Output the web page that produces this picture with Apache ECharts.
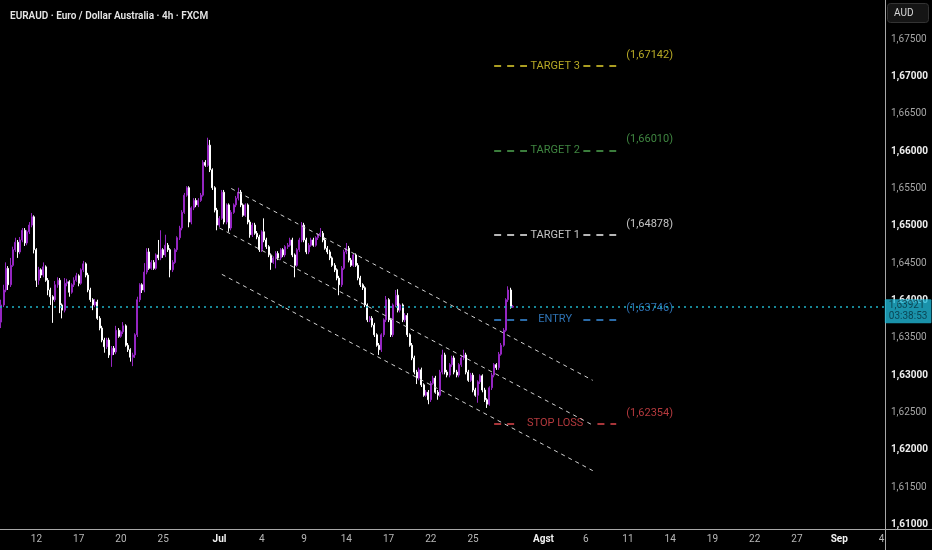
<!DOCTYPE html>
<html><head><meta charset="utf-8">
<script src="https://cdn.jsdelivr.net/npm/echarts@6/dist/echarts.min.js"></script>
<style>html,body{margin:0;padding:0;background:#000;}#c{width:932px;height:550px;}</style>
</head><body><div id="c"></div>
<script>
// ---- data ----
// [open, close, low, high]
const candles = [
[1.6371,1.6394,1.6363,1.6401],[1.6394,1.6414,1.6391,1.6421],[1.6414,1.6443,1.6411,1.6451],[1.6443,1.6421,1.6414,1.6446],
[1.6421,1.6447,1.6418,1.6457],[1.6447,1.6468,1.6445,1.6472],[1.6468,1.6478,1.6465,1.6484],[1.6478,1.6465,1.6457,1.6481],
[1.6465,1.6481,1.6462,1.6485],[1.6481,1.6494,1.6478,1.6497],[1.6494,1.6477,1.6473,1.6497],[1.6477,1.6492,1.6474,1.6494],
[1.6492,1.6501,1.6489,1.6505],[1.6501,1.6512,1.6498,1.6517],[1.6512,1.6468,1.6463,1.6514],[1.6468,1.6427,1.6418,1.6470],
[1.6427,1.6441,1.6421,1.6445],[1.6441,1.6434,1.6430,1.6443],[1.6434,1.6445,1.6431,1.6451],[1.6445,1.6427,1.6425,1.6447],
[1.6427,1.6414,1.6407,1.6430],[1.6414,1.6405,1.6394,1.6417],[1.6405,1.6401,1.6370,1.6407],[1.6401,1.6421,1.6398,1.6426],
[1.6421,1.6427,1.6417,1.6431],[1.6427,1.6394,1.6383,1.6430],[1.6394,1.6387,1.6376,1.6396],[1.6387,1.6423,1.6384,1.6430],
[1.6423,1.6425,1.6419,1.6429],[1.6425,1.6411,1.6405,1.6427],
[1.6411,1.6421,1.6409,1.6423],[1.6421,1.6427,1.6418,1.6431],[1.6427,1.6433,1.6425,1.6437],[1.6433,1.6423,1.6419,1.6435],
[1.6423,1.6441,1.6421,1.6443],[1.6441,1.6449,1.6438,1.6453],[1.6449,1.6434,1.6431,1.6451],[1.6434,1.6414,1.6411,1.6437],
[1.6414,1.6401,1.6398,1.6417],[1.6401,1.6394,1.6387,1.6403],
[1.6394,1.6398,1.6391,1.6402],[1.6398,1.6376,1.6374,1.6401],[1.6376,1.6363,1.6360,1.6379],[1.6363,1.6347,1.6344,1.6366],
[1.6347,1.6338,1.6330,1.6350],[1.6338,1.6347,1.6335,1.6350],[1.6347,1.6327,1.6323,1.6350],[1.6327,1.6336,1.6311,1.6339],
[1.6336,1.6331,1.6327,1.6339],[1.6331,1.6360,1.6328,1.6366],
[1.6360,1.6352,1.6350,1.6363],[1.6352,1.6358,1.6350,1.6360],[1.6358,1.6366,1.6355,1.6371],[1.6366,1.6340,1.6338,1.6368],
[1.6340,1.6334,1.6331,1.6343],[1.6334,1.6324,1.6318,1.6336],[1.6324,1.6327,1.6312,1.6330],[1.6327,1.6354,1.6323,1.6356],
[1.6354,1.6401,1.6351,1.6405],[1.6401,1.6421,1.6398,1.6423],
[1.6421,1.6414,1.6410,1.6423],[1.6414,1.6438,1.6411,1.6450],[1.6438,1.6465,1.6435,1.6470],[1.6465,1.6443,1.6441,1.6470],
[1.6443,1.6451,1.6441,1.6454],[1.6451,1.6443,1.6441,1.6454],[1.6443,1.6461,1.6441,1.6463],[1.6461,1.6457,1.6454,1.6481],
[1.6457,1.6468,1.6454,1.6494],[1.6468,1.6461,1.6457,1.6470],
[1.6461,1.6474,1.6458,1.6488],[1.6474,1.6468,1.6465,1.6477],[1.6468,1.6441,1.6431,1.6470],[1.6441,1.6451,1.6438,1.6454],
[1.6451,1.6468,1.6449,1.6470],[1.6468,1.6484,1.6465,1.6486],[1.6484,1.6497,1.6481,1.6500],[1.6497,1.6518,1.6494,1.6521],
[1.6518,1.6541,1.6516,1.6544],[1.6541,1.6551,1.6539,1.6553],
[1.6551,1.6505,1.6498,1.6553],[1.6505,1.6524,1.6502,1.6526],[1.6524,1.6534,1.6521,1.6537],[1.6534,1.6528,1.6525,1.6537],
[1.6528,1.6534,1.6525,1.6537],[1.6534,1.6541,1.6532,1.6544],[1.6541,1.6585,1.6539,1.6588],[1.6585,1.6581,1.6579,1.6588],
[1.6581,1.6608,1.6579,1.6618],[1.6608,1.6575,1.6572,1.6615],
[1.6575,1.6551,1.6548,1.6577],[1.6551,1.6521,1.6518,1.6553],[1.6521,1.6501,1.6494,1.6524],[1.6501,1.6510,1.6498,1.6513],
[1.6510,1.6545,1.6508,1.6548],[1.6545,1.6505,1.6502,1.6548],[1.6505,1.6528,1.6502,1.6530],[1.6528,1.6497,1.6492,1.6530],
[1.6497,1.6518,1.6494,1.6521],[1.6518,1.6528,1.6516,1.6530],
[1.6528,1.6537,1.6525,1.6540],[1.6537,1.6545,1.6534,1.6551],[1.6545,1.6528,1.6525,1.6548],[1.6528,1.6514,1.6512,1.6530],
[1.6514,1.6528,1.6512,1.6530],[1.6528,1.6505,1.6502,1.6530],[1.6505,1.6488,1.6484,1.6508],[1.6488,1.6501,1.6485,1.6504],
[1.6501,1.6490,1.6488,1.6504],[1.6490,1.6485,1.6482,1.6493],
[1.6485,1.6468,1.6465,1.6488],[1.6468,1.6492,1.6465,1.6494],[1.6492,1.6481,1.6478,1.6510],[1.6481,1.6472,1.6469,1.6484],
[1.6472,1.6461,1.6458,1.6474],[1.6461,1.6451,1.6441,1.6463],[1.6451,1.6457,1.6449,1.6459],[1.6457,1.6463,1.6443,1.6466],
[1.6463,1.6457,1.6454,1.6466],[1.6457,1.6468,1.6454,1.6470],
[1.6468,1.6461,1.6458,1.6470],[1.6461,1.6472,1.6458,1.6474],[1.6472,1.6474,1.6469,1.6477],[1.6474,1.6481,1.6472,1.6484],
[1.6481,1.6461,1.6458,1.6484],[1.6461,1.6447,1.6431,1.6463],[1.6447,1.6468,1.6445,1.6470],[1.6468,1.6481,1.6465,1.6484],
[1.6481,1.6501,1.6478,1.6505],[1.6501,1.6481,1.6478,1.6504],
[1.6481,1.6465,1.6462,1.6484],[1.6465,1.6474,1.6462,1.6477],[1.6474,1.6481,1.6472,1.6484],[1.6481,1.6474,1.6472,1.6484],
[1.6474,1.6484,1.6472,1.6486],[1.6484,1.6488,1.6481,1.6490],[1.6488,1.6490,1.6485,1.6497],[1.6490,1.6481,1.6478,1.6493],
[1.6481,1.6470,1.6468,1.6484],[1.6470,1.6465,1.6462,1.6473],
[1.6465,1.6457,1.6454,1.6468],[1.6457,1.6447,1.6445,1.6459],[1.6447,1.6441,1.6438,1.6450],[1.6441,1.6430,1.6427,1.6443],
[1.6430,1.6421,1.6407,1.6433],[1.6421,1.6443,1.6418,1.6446],[1.6443,1.6465,1.6441,1.6468],[1.6465,1.6470,1.6462,1.6477],
[1.6470,1.6454,1.6451,1.6473],[1.6454,1.6447,1.6445,1.6457],
[1.6447,1.6461,1.6445,1.6463],[1.6461,1.6447,1.6445,1.6463],[1.6447,1.6430,1.6427,1.6450],[1.6430,1.6421,1.6418,1.6433],
[1.6421,1.6417,1.6414,1.6423],[1.6417,1.6394,1.6391,1.6419],[1.6394,1.6374,1.6371,1.6396],[1.6374,1.6376,1.6371,1.6379],
[1.6376,1.6367,1.6364,1.6379],[1.6367,1.6354,1.6351,1.6370],
[1.6354,1.6340,1.6338,1.6356],[1.6340,1.6334,1.6327,1.6343],[1.6334,1.6354,1.6331,1.6356],[1.6354,1.6374,1.6351,1.6376],
[1.6374,1.6401,1.6371,1.6406],[1.6401,1.6374,1.6371,1.6403],[1.6374,1.6354,1.6351,1.6376],[1.6354,1.6394,1.6351,1.6396],
[1.6394,1.6407,1.6391,1.6414],[1.6407,1.6387,1.6384,1.6415],
[1.6387,1.6394,1.6384,1.6396],[1.6394,1.6374,1.6371,1.6396],[1.6374,1.6380,1.6371,1.6383],[1.6380,1.6354,1.6351,1.6383],
[1.6354,1.6340,1.6338,1.6356],[1.6340,1.6323,1.6320,1.6343],[1.6323,1.6304,1.6301,1.6326],[1.6304,1.6296,1.6288,1.6307],
[1.6296,1.6307,1.6293,1.6310],[1.6307,1.6287,1.6284,1.6310],
[1.6287,1.6273,1.6271,1.6289],[1.6273,1.6277,1.6271,1.6280],[1.6277,1.6267,1.6261,1.6280],[1.6267,1.6289,1.6264,1.6292],
[1.6289,1.6296,1.6287,1.6299],[1.6296,1.6277,1.6275,1.6299],[1.6277,1.6273,1.6267,1.6280],[1.6273,1.6304,1.6271,1.6307],
[1.6304,1.6327,1.6301,1.6334],[1.6327,1.6304,1.6301,1.6330],
[1.6304,1.6300,1.6297,1.6307],[1.6300,1.6314,1.6297,1.6316],[1.6314,1.6323,1.6311,1.6326],[1.6323,1.6304,1.6301,1.6326],
[1.6304,1.6300,1.6297,1.6307],[1.6300,1.6314,1.6297,1.6316],[1.6314,1.6323,1.6311,1.6326],[1.6323,1.6327,1.6320,1.6334],
[1.6327,1.6304,1.6301,1.6330],[1.6304,1.6293,1.6291,1.6307],
[1.6293,1.6300,1.6291,1.6303],[1.6300,1.6280,1.6277,1.6303],[1.6280,1.6273,1.6271,1.6283],[1.6273,1.6291,1.6263,1.6293],
[1.6291,1.6299,1.6288,1.6301],[1.6299,1.6280,1.6277,1.6301],[1.6280,1.6267,1.6264,1.6283],[1.6267,1.6261,1.6256,1.6269],
[1.6261,1.6283,1.6259,1.6285],[1.6283,1.6300,1.6280,1.6303],
[1.6300,1.6314,1.6297,1.6316],[1.6314,1.6310,1.6307,1.6316],[1.6310,1.6328,1.6307,1.6331],[1.6328,1.6340,1.6326,1.6343],
[1.6340,1.6360,1.6338,1.6363],[1.6360,1.6401,1.6358,1.6403],[1.6401,1.6414,1.6398,1.6419],[1.6414,1.6391,1.6389,1.6417],
[1.6391,1.63921,1.6390,1.6394]
];
const lastPrice = 1.63921;
const countdown = '03:38:53';

const levelNames  = ['TARGET 3', 'TARGET 2', 'TARGET 1', 'ENTRY', 'STOP LOSS'];
const levelValues = [1.67142, 1.66010, 1.64878, 1.63746, 1.62354];

// channel lines: [bar index, price]
const channelUpper  = [[98, 1.6550], [252, 1.6293]];
const channelMiddle = [[93, 1.6497], [252, 1.6233]];
const channelLower  = [[94, 1.6435], [252, 1.6172]];

const tickDates  = ['2025-06-12','2025-06-17','2025-06-20','2025-06-25','2025-07-01','2025-07-04','2025-07-09','2025-07-14','2025-07-17','2025-07-22','2025-07-25','2025-08-01','2025-08-06','2025-08-11','2025-08-14','2025-08-19','2025-08-22','2025-08-27','2025-09-01','2025-09-04'];
const tickLabels = ['12','17','20','25','Jul','4','9','14','17','22','25','Agst','6','11','14','19','22','27','Sep','4'];
const monthLabels = ['Jul','Agst','Sep'];

const titleText = 'EURAUD · Euro / Dollar Australia · 4h · FXCM';
const currencyText = 'AUD';

// ---- styles / layout ----
const levelColors = ['#e3d22e', '#4fa650', '#f2f2f2', '#3a8fe0', '#e0474c'];
const levelSegments = [[210,224,248,262],[210,224,248,262],[210,224,248,262],[210,225,248,262],[210,219,254,262]];
const levelMidBar = 236, levelValueBar = 262;
const UP = '#9526c2', DOWN = '#ffffff';

// ---- build 4h categories (weekdays only, 6 bars per day) ----
const slotCount = 377;
const categories = [];
{
  const d = new Date(Date.UTC(2025, 5, 9));
  let b = 3;
  while (categories.length < slotCount) {
    categories.push(d.toISOString().slice(0,10) + ' ' + String(b*4).padStart(2,'0') + ':00');
    b++;
    if (b === 6) { b = 0; do { d.setUTCDate(d.getUTCDate()+1); } while (d.getUTCDay() === 0 || d.getUTCDay() === 6); }
  }
}
const tickMap = {};
tickDates.forEach((t, k) => { tickMap[t + ' 00:00'] = tickLabels[k]; });

const fmtPrice = v => v.toFixed(5).replace('.', ',');

const levelLineData = [];
levelNames.forEach((n, k) => {
  const s = levelSegments[k], v = levelValues[k];
  const ls = {color: levelColors[k], width: 1.5, type: [7, 6]};
  levelLineData.push([{coord: [s[0], v], lineStyle: ls}, {coord: [s[1], v]}]);
  levelLineData.push([{coord: [s[2], v], lineStyle: ls}, {coord: [s[3], v]}]);
});

const chart = echarts.init(document.getElementById('c'), null, {renderer: 'canvas'});
chart.setOption({
  backgroundColor: '#000',
  animation: false,
  textStyle: {fontFamily: 'Roboto, "DejaVu Sans", sans-serif'},
  title: {
    text: titleText, left: 5, top: 6,
    textStyle: {color: '#e6e6e6', fontSize: 10, fontWeight: 600, fontFamily: 'Roboto'}
  },
  grid: {left: 0, right: 47, top: 1.85, bottom: 25.6, containLabel: false, outerBoundsMode: 'none'},
  xAxis: {
    type: 'category', data: categories, boundaryGap: true,
    axisLine: {show: false}, axisTick: {show: false}, splitLine: {show: false},
    axisLabel: {
      margin: 10,
      interval: (idx, val) => tickMap[val] !== undefined,
      formatter: val => {
        const l = tickMap[val];
        if (l === undefined) return '';
        return monthLabels.includes(l) ? '{m|' + l + '}' : '{d|' + l + '}';
      },
      rich: {
        d: {color: '#b8b8b8', fontSize: 10, fontFamily: 'Roboto'},
        m: {color: '#f0f0f0', fontSize: 10, fontWeight: 'bold', fontFamily: 'Roboto'}
      }
    }
  },
  yAxis: {
    type: 'value', position: 'right', min: 1.61, max: 1.68, interval: 0.005, scale: true,
    axisLine: {show: false}, axisTick: {show: false}, splitLine: {show: false},
    axisLabel: {
      margin: 6, showMaxLabel: false,
      formatter: v => {
        const major = Math.abs(v * 100 - Math.round(v * 100)) < 1e-6;
        return (major ? '{b|' : '{n|') + fmtPrice(v) + '}';
      },
      rich: {
        b: {color: '#eeeeee', fontSize: 10, fontWeight: 'bold', fontFamily: 'Roboto'},
        n: {color: '#a6a6a6', fontSize: 10, fontFamily: 'Roboto'}
      }
    }
  },
  series: [
    {
      type: 'candlestick', name: 'EURAUD', data: candles, barWidth: 1.5,
      itemStyle: {color: UP, color0: DOWN, borderColor: UP, borderColor0: DOWN, borderWidth: 1},
      markLine: {
        silent: true, symbol: 'none', animation: false, precision: 5,
        label: {show: false},
        lineStyle: {color: '#1fb3c6', type: [2, 4], width: 1.5},
        data: [{yAxis: lastPrice}]
      }
    },
    {type: 'line', data: channelUpper, symbol: 'none', silent: true, lineStyle: {color: '#d0d0d0', width: 1, type: [4, 4]}},
    {type: 'line', data: channelMiddle, symbol: 'none', silent: true, lineStyle: {color: '#d0d0d0', width: 1, type: [4, 4]}},
    {type: 'line', data: channelLower, symbol: 'none', silent: true, lineStyle: {color: '#d0d0d0', width: 1, type: [4, 4]}},
    {
      type: 'line', data: [], silent: true,
      markLine: {silent: true, symbol: 'none', animation: false, precision: 5, label: {show: false}, data: levelLineData}
    },
    {
      type: 'scatter', symbolSize: 0, silent: true,
      data: levelNames.map((n, k) => ({
        value: [levelMidBar, levelValues[k]], name: n,
        label: {show: true, position: 'inside', formatter: n, color: levelColors[k], fontSize: 11, fontFamily: 'Roboto'}
      }))
    },
    {
      type: 'scatter', symbolSize: 0, silent: true,
      data: levelValues.map((v, k) => ({
        value: [levelValueBar, v],
        label: {show: true, position: 'right', distance: 10, offset: [0, k === 4 ? -10 : -11],
                formatter: '(' + fmtPrice(v) + ')', color: levelColors[k], fontSize: 11, fontFamily: 'Roboto'}
      }))
    },
    {
      type: 'scatter', symbolSize: 0, silent: true, clip: false, z: 10,
      data: [{
        value: [slotCount - 1, lastPrice],
        label: {
          show: true, position: 'right', distance: 1, offset: [0, 5],
          formatter: '{p|' + fmtPrice(lastPrice) + '}\n{p|' + countdown + '}',
          backgroundColor: '#21b6d4', padding: [1, 4, 1, 4], borderRadius: 1,
          rich: {p: {color: '#06303c', fontSize: 10, lineHeight: 11, fontFamily: 'Roboto'}}
        }
      }]
    }
  ],
  graphic: [
    {type: 'line', silent: true, z: 5, shape: {x1: 885.5, y1: 0, x2: 885.5, y2: 550}, style: {stroke: '#a8a8a8', lineWidth: 1}},
    {type: 'line', silent: true, z: 5, shape: {x1: 0, y1: 529.5, x2: 932, y2: 529.5}, style: {stroke: '#a8a8a8', lineWidth: 1}},
    {type: 'rect', silent: true, z: 5, shape: {x: 887.5, y: 3.5, width: 41, height: 19, r: 3}, style: {fill: '#151515', stroke: '#333333', lineWidth: 1}},
    {type: 'text', silent: true, z: 6, x: 894, y: 13, style: {text: currencyText, fill: '#d8d8d8', font: '10px Roboto', verticalAlign: 'middle'}}
  ]
});
</script>
</body></html>
